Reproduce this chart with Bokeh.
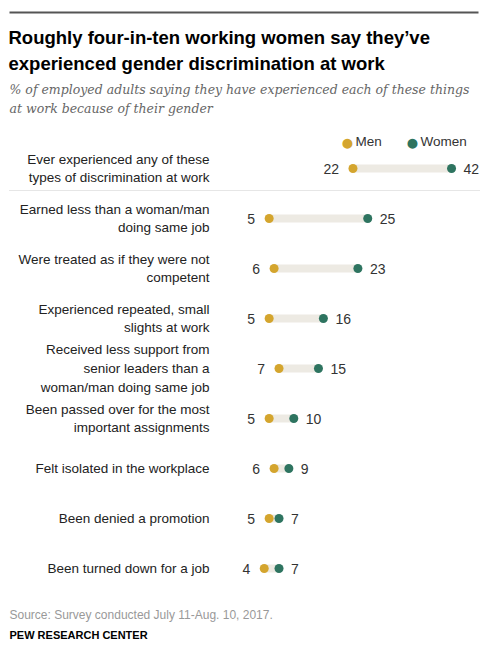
from bokeh.plotting import figure
from bokeh.models import Range1d, Label, ColumnDataSource, BoxAnnotation
from bokeh.core.properties import value
from bokeh.embed import file_html
from bokeh.resources import INLINE

categories = [
    "Ever experienced any of these\ntypes of discrimination at work",
    "Earned less than a woman/man\ndoing same job",
    "Were treated as if they were not\ncompetent",
    "Experienced repeated, small\nslights at work",
    "Received less support from\nsenior leaders than a\nwoman/man doing same job",
    "Been passed over for the most\nimportant assignments",
    "Felt isolated in the workplace",
    "Been denied a promotion",
    "Been turned down for a job",
]
men = [22, 5, 6, 5, 7, 5, 6, 5, 4]
women = [42, 25, 23, 16, 15, 10, 9, 7, 7]

MEN_C = "#D4A52E"
WOMEN_C = "#2E7460"
BAR_C = "#EDEAE3"
FONT = "Liberation Sans"

W, H = 480, 644
PX_PER_UNIT = 4.93
X0 = 244.0
ROW0 = 168.0
ROW_STEP = 50.0

x_start = -X0 / PX_PER_UNIT
x_end = (W - X0) / PX_PER_UNIT
y_top = -ROW0 / ROW_STEP
y_bot = (H - ROW0) / ROW_STEP

def xd(px):
    return x_start + px / PX_PER_UNIT

def yd(px):
    return y_top + px / ROW_STEP

p = figure(width=W, height=H, output_backend="svg", toolbar_location=None,
           x_range=Range1d(x_start, x_end), y_range=Range1d(y_bot, y_top),
           min_border=0, outline_line_color=None)
p.title.visible = False
p.xaxis.visible = False
p.yaxis.visible = False
p.grid.visible = False
p.background_fill_color = "white"

rows = list(range(len(categories)))
src = ColumnDataSource(dict(
    y=rows, men=men, women=women, cat=categories,
    men_lbl=[str(v) for v in men], women_lbl=[str(v) for v in women],
    lab_x=[xd(209)] * len(rows),
))

# top rule
p.add_layout(BoxAnnotation(left=9, right=478, top=H - 11, bottom=H - 13,
                           left_units="screen", right_units="screen",
                           top_units="screen", bottom_units="screen",
                           fill_color="#555555", fill_alpha=1.0, line_color=None))
# dotted separator
p.segment(x0=[xd(9)], x1=[x_end], y0=[yd(190)], y1=[yd(190)],
          line_color="#cccccc", line_width=1, line_dash="1 1")

p.segment(x0="men", x1="women", y0="y", y1="y", source=src,
          line_color=BAR_C, line_width=8)
p.scatter(x="men", y="y", source=src, size=9, fill_color=MEN_C, line_color=None)
p.scatter(x="women", y="y", source=src, size=9, fill_color=WOMEN_C, line_color=None)

p.text(x="men", y="y", text="men_lbl", source=src, x_offset=-14,
       text_align="right", text_baseline="middle", text_font=value(FONT),
       text_font_size="14px", text_color="#333333")
p.text(x="women", y="y", text="women_lbl", source=src, x_offset=12,
       text_align="left", text_baseline="middle", text_font=value(FONT),
       text_font_size="14px", text_color="#333333")

p.text(x="lab_x", y="y", text="cat", source=src,
       text_align="right", text_baseline="middle", text_font=value(FONT),
       text_font_size="13.5px", text_color="#222222", text_line_height=1.24)

def lab(text, x, y, size, color="#000000", style="normal", font=FONT, align="left"):
    p.add_layout(Label(x=x, y=H - y, x_units="screen", y_units="screen",
                       text=text, text_font=font, text_font_size=size,
                       text_color=color, text_font_style=style,
                       text_baseline="middle", text_align=align))

lab("Roughly four-in-ten working women say they\u2019ve", 8, 37, "18.5px", style="bold")
lab("experienced gender discrimination at work", 8, 63, "18.5px", style="bold")
lab("% of employed adults saying they have experienced each of these things", 9, 89,
    "12.5px", color="#666666", style="italic", font="DejaVu Serif")
lab("at work because of their gender", 9, 108,
    "12.5px", color="#666666", style="italic", font="DejaVu Serif")

lab("\u25CF", 347, 141, "23px", color=MEN_C, align="center")
lab("Men", 355, 141, "13.5px", color="#333333")
lab("\u25CF", 412, 141, "23px", color=WOMEN_C, align="center")
lab("Women", 420, 141, "13.5px", color="#333333")

lab("Source: Survey conducted July 11-Aug. 10, 2017.", 9, 614, "12px", color="#999999")
lab("PEW RESEARCH CENTER", 9, 634, "11px", style="bold")

open("out.html", "w").write(file_html(p, INLINE))
